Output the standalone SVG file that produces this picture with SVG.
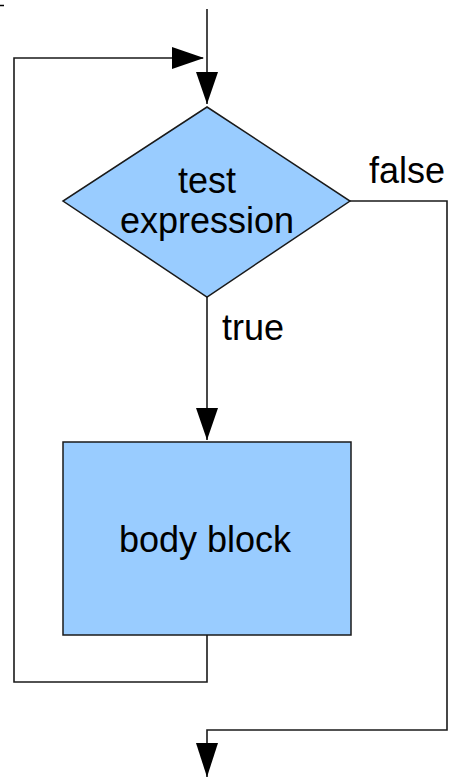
<svg xmlns="http://www.w3.org/2000/svg" width="453" height="778" viewBox="0 0 453 778">
  <style>
    .shape { fill: #99ccff; stroke: #1a1a1a; stroke-width: 1.5; }
    .wire { fill: none; stroke: #1a1a1a; stroke-width: 1.6; }
    .head { fill: #000; }
    text { font-family: "Liberation Sans", Arial, sans-serif; font-size: 36px; fill: #000; }
  </style>
  <rect width="453" height="778" fill="#fff"/>
  <line x1="0" y1="5.5" x2="4" y2="5.5" stroke="#000" stroke-width="1.5"/>

  <g id="connectors">
    <!-- entry line into the test -->
    <path class="wire" d="M207 9 V104"/>
    <path class="head" d="M196 72 L218 72 L207 104 Z"/>
    <!-- loop back from the body to the entry -->
    <path class="wire" d="M207 635 V682 H14 V58 H203"/>
    <path class="head" d="M172 47 L172 69 L204 58 Z"/>
    <!-- true branch -->
    <path class="wire" d="M207 297 V440"/>
    <path class="head" d="M196 408 L218 408 L207 440 Z"/>
    <!-- false branch to the exit -->
    <path class="wire" d="M350 201 H447 V730 H207 V777"/>
    <path class="head" d="M196 743 L218 743 L207 777 Z"/>
  </g>

  <g id="test">
    <polygon class="shape" points="207,107 350,201 207,297 63,201"/>
    <text x="207" y="193" text-anchor="middle">test</text>
    <text x="207" y="233" text-anchor="middle">expression</text>
  </g>

  <g id="body">
    <rect class="shape" x="63" y="442" width="288" height="193"/>
    <text x="205" y="552" text-anchor="middle">body block</text>
  </g>

  <g id="labels">
    <text x="369" y="183">false</text>
    <text x="222" y="340">true</text>
  </g>
</svg>
